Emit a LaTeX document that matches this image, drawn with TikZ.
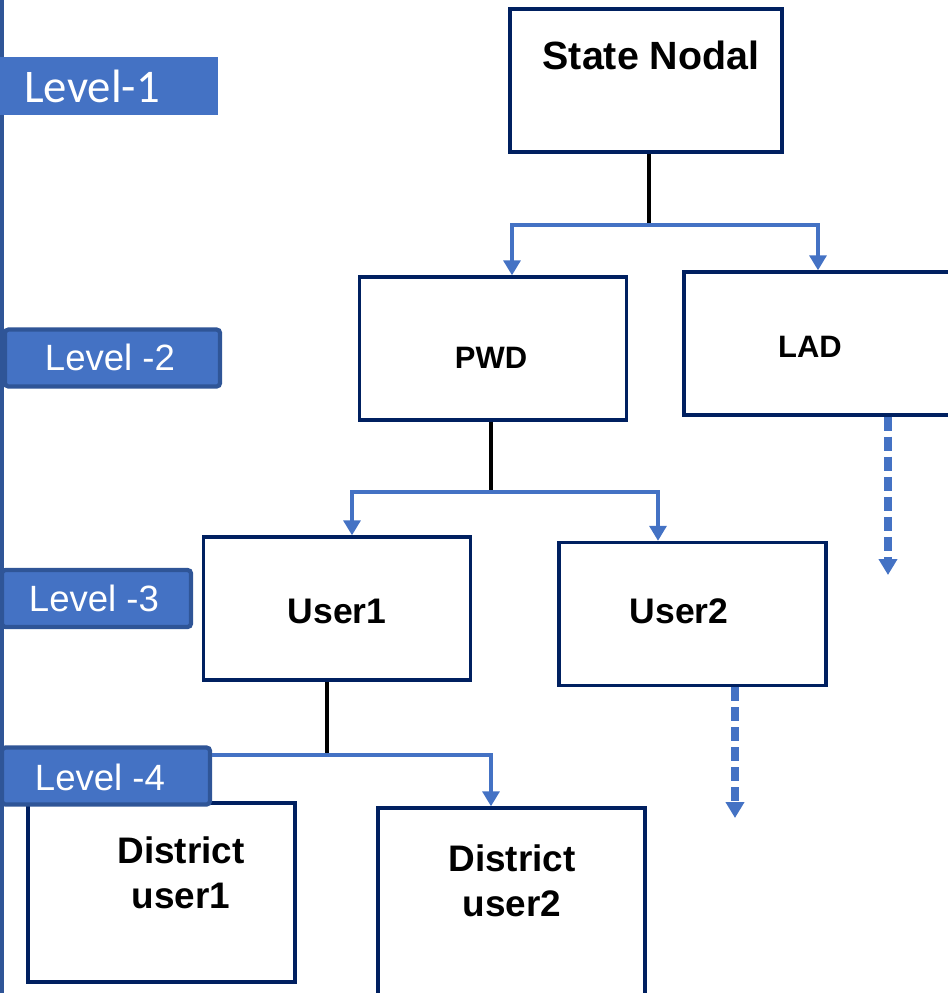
\documentclass[tikz,border=0pt]{standalone}
\usepackage{fontspec}
\setmainfont{Liberation Sans}
\newfontfamily\calibri{Carlito}
\usetikzlibrary{arrows.meta,calc}
\definecolor{navy}{RGB}{0,32,96}
\definecolor{band}{RGB}{68,114,196}
\definecolor{bandedge}{RGB}{47,85,151}
\begin{document}
\begin{tikzpicture}[x=0.01cm,y=-0.01cm,
    box/.style={draw=navy,line width=0.95pt,fill=white,minimum width=2.67cm,minimum height=1.43cm,inner sep=0},
    boxtext/.style={font=\bfseries\fontsize{#1}{12.8}\selectfont,align=center,inner sep=0},
    tier/.style={fill=band,draw=bandedge,line width=1.2pt,rounded corners=1pt,minimum height=0.57cm,inner sep=0},
    tiertext/.style={text=white,font=\fontsize{10.4}{12}\selectfont,inner sep=0},
    trunk/.style={draw=black,line width=1.1pt},
    feed/.style={draw=band,line width=0.95pt,-{Triangle[width=0.17cm,length=0.15cm]}},
    more/.style={draw=band,line width=2pt,dash pattern=on 0.14cm off 0.06cm,-{Triangle[width=0.18cm,length=0.16cm]}}]
    \useasboundingbox (0,0) rectangle (947,993);
    \draw [draw=bandedge,line width=1.3pt] (2,0)--(2,993);
    \node [box,minimum width=2.72cm] (nodal) at (646,80.5) {};
    \node [boxtext=11.2] (nodalt) at (651,55) {State Nodal};
    \node [box] (pwd) at (493,348.5) {};
    \node [boxtext=8.8] (pwdt) at (491,358) {PWD};
    \node [box] (lad) at (817.5,343.5) {};
    \node [boxtext=8.8] (ladt) at (810,347) {LAD};
    \node [box] (userA) at (337,608.5) {};
    \node [boxtext=10.1] (userAt) at (337,611) {User1};
    \node [box] (userB) at (692.5,614) {};
    \node [boxtext=10.1] (userBt) at (679,611) {User2};
    \node [box,minimum height=1.79cm] (distA) at (161.5,892.5) {};
    \node [boxtext=10.5] (distAt) at (181,873) {District\\user1};
    \node [box,minimum height=1.92cm] (distB) at (511.5,904) {};
    \node [boxtext=10.5] (distBt) at (512,881) {District\\user2};
    \coordinate (forkA) at (649,225);
    \coordinate (forkB) at (491,492);
    \coordinate (forkC) at (327,755);
    \coordinate (moreA) at (888,575);
    \coordinate (moreB) at (735,818);
    \draw [trunk] (nodal.south -| forkA)--(forkA);
    \draw [feed] (forkA) -| ($(pwd.north)+(19,0)$);
    \draw [feed] (forkA) -| ($(lad.north)+(0.5,0)$);
    \draw [trunk] (pwd.south -| forkB)--(forkB);
    \draw [feed] (forkB) -| ($(userA.north)+(15,0)$);
    \draw [feed] (forkB) -| ($(userB.north)+(-34.5,0)$);
    \draw [trunk] (userA.south -| forkC)--(forkC);
    \draw [more] (lad.south -| moreA)--(moreA);
    \draw [more] (userB.south -| moreB)--(moreB);
    \node [tier,draw=none,rounded corners=0pt,minimum width=2.18cm,minimum height=0.58cm] (tierA) at (109,86) {};
    \node [tiertext,font=\calibri\fontsize{13.3}{16}\selectfont] (tierAt) at (92,86) {Level-1};
    \node [tier,minimum width=2.15cm] (tierB) at (112.5,358) {};
    \node [tiertext] (tierBt) at (110,357) {Level -2};
    \node [tier,minimum width=1.89cm] (tierC) at (96.5,598.5) {};
    \node [tiertext] (tierCt) at (94,598) {Level -3};
    \node [tier,minimum width=2.08cm] (tierD) at (106,776) {};
    \node [tiertext] (tierDt) at (100,777) {Level -4};
    \draw [feed] (tierD.east |- forkC)--(forkC) -| ($(distB.north)+(-20.5,0)$);
\end{tikzpicture}
\end{document}
